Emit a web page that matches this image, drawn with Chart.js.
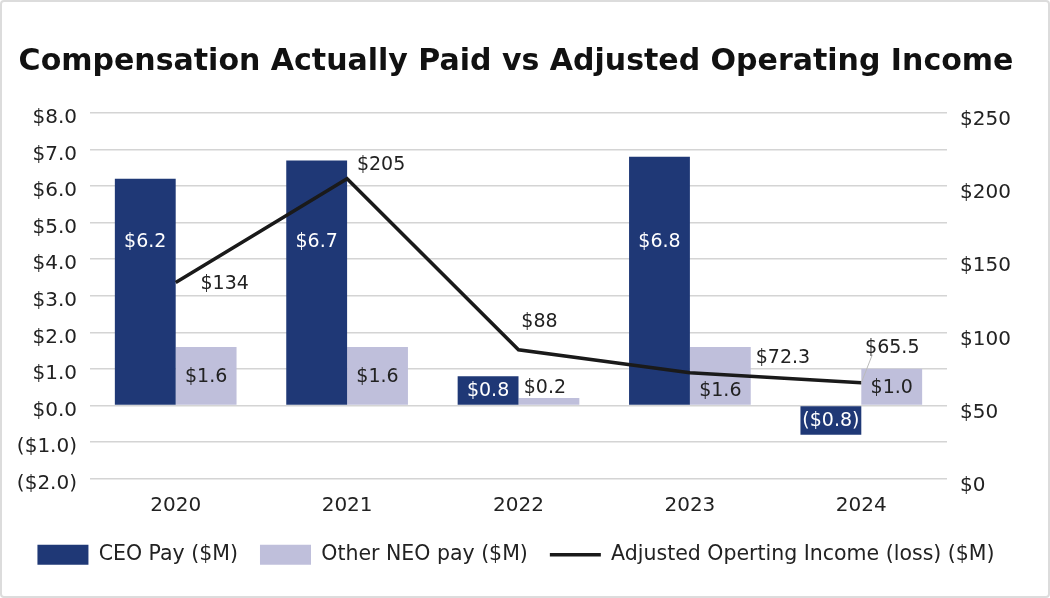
<!DOCTYPE html>
<html><head><meta charset="utf-8">
<script src="https://cdn.jsdelivr.net/npm/chart.js@4"></script>
<style>
html,body{margin:0;padding:0;background:#fff;}
#wrap{position:absolute;left:0;top:0;width:1046px;height:594px;border:2px solid #dcdcdc;border-radius:4px;}
canvas{display:block}
</style></head><body>
<div id="wrap"><canvas id="c"></canvas></div>
<script>
const categories = ['2020', '2021', '2022', '2023', '2024'];
const ceoPay = [6.2, 6.7, 0.8, 6.8, -0.8];
const otherNeoPay = [1.6, 1.6, 0.2, 1.6, 1.0];
const adjOpIncome = [134, 205, 88, 72.3, 65.5];
const seriesNames = ['CEO Pay ($M)', 'Other NEO pay ($M)', 'Adjusted Operting Income (loss) ($M)'];
const titleText = 'Compensation Actually Paid vs Adjusted Operating Income';

const FONT = '"DejaVu Sans", sans-serif';
const NAVY = '#1f3876';
const LAV = '#bfbfdb';
const TXT = '#222222';

function fmtPay(v) {
  return v < 0 ? '($' + Math.abs(v).toFixed(1) + ')' : '$' + v.toFixed(1);
}

const labelPlugin = {
  id: 'valueLabels',
  afterDatasetsDraw(chart) {
    const ctx = chart.ctx;
    const yL = chart.scales.y;
    ctx.save();
    ctx.font = '19px ' + FONT;
    ctx.textAlign = 'center';
    ctx.textBaseline = 'middle';
    chart.getDatasetMeta(0).data.forEach((bar, i) => {
      const h = Math.abs(bar.base - bar.y);
      const y = h > 120 ? yL.getPixelForValue(4.5) : (bar.y + bar.base) / 2;
      ctx.fillStyle = '#ffffff';
      ctx.fillText(fmtPay(ceoPay[i]), bar.x, y + 1);
    });
    const otherShift = [0, 0, 0, 14, 0];
    chart.getDatasetMeta(1).data.forEach((bar, i) => {
      const h = Math.abs(bar.base - bar.y);
      const y = h >= 24 ? (bar.y + bar.base) / 2 : bar.y - 11;
      ctx.fillStyle = TXT;
      ctx.fillText(fmtPay(otherNeoPay[i]), bar.x - (h >= 24 ? 0 : 4), y + 1 + otherShift[i]);
    });
    const offs = [[49, 1], [34, -14], [21, -28], [93, -15], [31, -35]];
    chart.getDatasetMeta(2).data.forEach((pt, i) => {
      if (i === 4) {
        ctx.strokeStyle = '#bbbbbb';
        ctx.lineWidth = 1;
        ctx.beginPath();
        ctx.moveTo(pt.x, pt.y);
        ctx.lineTo(pt.x + 11, pt.y - 28);
        ctx.stroke();
      }
      ctx.fillStyle = TXT;
      ctx.fillText('$' + adjOpIncome[i], pt.x + offs[i][0], pt.y + offs[i][1]);
    });
    ctx.restore();
  }
};

new Chart(document.getElementById('c'), {
  data: {
    labels: categories,
    datasets: [
      { type: 'bar', label: seriesNames[0], data: ceoPay, backgroundColor: NAVY, yAxisID: 'y', order: 2,
        categoryPercentage: 0.71, barPercentage: 1.0 },
      { type: 'bar', label: seriesNames[1], data: otherNeoPay, backgroundColor: LAV, yAxisID: 'y', order: 2,
        categoryPercentage: 0.71, barPercentage: 1.0 },
      { type: 'line', label: seriesNames[2], data: adjOpIncome, borderColor: '#1a1a1a', backgroundColor: '#1a1a1a',
        borderWidth: 3.5, pointRadius: 0, tension: 0, yAxisID: 'y2', order: 1 }
    ]
  },
  options: {
    responsive: true,
    maintainAspectRatio: false,
    animation: false,
    layout: { padding: { left: 0, right: 18, top: 0, bottom: 21 } },
    plugins: {
      title: { display: true, text: titleText, color: '#111111',
        font: { family: FONT, size: 30, weight: 'bold' }, padding: { top: 42, bottom: 33 } },
      legend: { position: 'bottom',
        labels: { color: TXT, font: { family: FONT, size: 20.5 }, usePointStyle: true, pointStyleWidth: 51,
          boxHeight: 20, padding: 22,
          sort: (a, b) => a.datasetIndex - b.datasetIndex,
          generateLabels(chart) {
            const items = Chart.defaults.plugins.legend.labels.generateLabels(chart);
            items.forEach(it => {
              if (it.datasetIndex === 2) { it.pointStyle = 'line'; it.lineWidth = 3.5; it.strokeStyle = '#1a1a1a'; }
              else { it.pointStyle = 'rect'; it.lineWidth = 0; }
            });
            return items;
          } } },
      tooltip: { enabled: false }
    },
    scales: {
      x: { grid: { display: false, drawTicks: false }, border: { display: false },
        ticks: { color: TXT, font: { family: FONT, size: 20 }, padding: 15 },
        afterFit(s) { s.height -= 10; } },
      y: { position: 'left', min: -2, max: 8,
        grid: { color: '#d4d4d4', lineWidth: 1.5, drawTicks: false }, border: { display: false },
        ticks: { stepSize: 1, color: TXT, font: { family: FONT, size: 20 }, padding: 13, labelOffset: 5,
          callback: v => fmtPay(v) },
        afterFit(s) { s.width = 88; } },
      y2: { position: 'right', min: 0, max: 250,
        grid: { display: false, drawTicks: false }, border: { display: false },
        ticks: { stepSize: 50, color: TXT, font: { family: FONT, size: 20 }, padding: 13, labelOffset: 7,
          callback: v => '$' + v },
        afterFit(s) { s.width = 83; } }
    }
  },
  plugins: [labelPlugin]
});
</script>
</body></html>
